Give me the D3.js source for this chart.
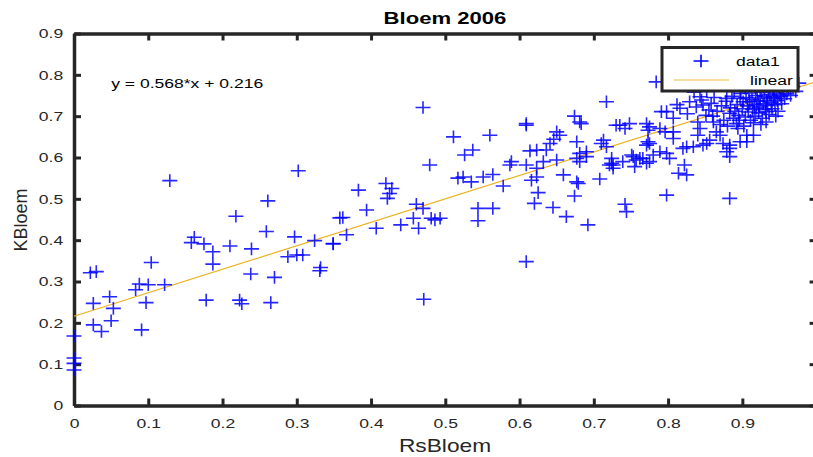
<!DOCTYPE html>
<html>
<head>
<meta charset="utf-8">
<script src="https://cdn.jsdelivr.net/npm/d3@7"></script>
<style>
  body { margin: 0; background: #fff; }
  svg { display: block; font-family: "Liberation Sans", Arial, sans-serif; }
</style>
</head>
<body>
<div id="chart"></div>
<script>
/* Bloem 2006 - RsBloem vs KBloem scatter with linear fit (MATLAB look) */

// data
var rsBloem = [
  0.129, 0.302, 0.261, 0.218, 0.259, 0.162, 0.158, 0.175, 0.187, 0.187, 0.210, 0.239, 0.297, 0.324, 0.349, 0.288,
  0.300, 0.308, 0.332, 0.331, 0.270, 0.238, 0.178, 0.223, 0.226, 0.265, 0.104, 0.088, 0.100, 0.083, 0.122, 0.097,
  0.091, 0.022, 0.030, 0.026, 0.048, 0.053, 0.050, 0.026, 0.037, 0.000, 0.000, 0.000, 0.000, 0.358,
  0.470, 0.511, 0.560, 0.609, 0.609, 0.674, 0.681, 0.717, 0.730, 0.742, 0.650, 0.654, 0.646, 0.641, 0.677, 0.713,
  0.710, 0.717, 0.537, 0.526, 0.614, 0.623, 0.636, 0.589, 0.587, 0.609, 0.632, 0.650, 0.677, 0.690, 0.681, 0.724,
  0.726, 0.739, 0.623, 0.479, 0.517, 0.524, 0.535, 0.551, 0.564, 0.578, 0.616, 0.623, 0.659, 0.677, 0.679, 0.708,
  0.625, 0.674, 0.620, 0.645, 0.663, 0.692, 0.742, 0.744, 0.544, 0.564, 0.544, 0.609, 0.471, 0.383, 0.420, 0.428,
  0.425, 0.422, 0.394, 0.362, 0.407, 0.440, 0.457, 0.464, 0.461, 0.470, 0.481, 0.486, 0.493, 0.367, 0.349,
  0.784, 0.798, 0.883, 0.822, 0.814, 0.825,
  0.798, 0.807, 0.816, 0.829, 0.845, 0.847, 0.858, 0.840, 0.843, 0.840, 0.861, 0.865, 0.870, 0.883, 0.888, 0.892,
  0.894, 0.879, 0.897, 0.910, 0.919, 0.932, 0.932, 0.942, 0.950, 0.906, 0.915, 0.897, 0.883, 0.879, 0.883, 0.834,
  0.825, 0.820, 0.798, 0.780, 0.771, 0.773, 0.771, 0.789, 0.796, 0.807, 0.807, 0.847, 0.856,
  0.775, 0.789, 0.802, 0.766, 0.757, 0.775, 0.751, 0.724, 0.726, 0.755, 0.852, 0.874, 0.883, 0.906,
  0.683, 0.735, 0.748, 0.791, 0.775, 0.721, 0.690, 0.681, 0.753, 0.762, 0.771, 0.773,
  0.843, 0.835, 0.852,
  0.860, 0.866, 0.872, 0.875, 0.878, 0.884, 0.886, 0.889, 0.890, 0.893, 0.895, 0.896, 0.898, 0.900, 0.901, 0.903,
  0.904, 0.905, 0.907, 0.908, 0.909, 0.911, 0.912, 0.913, 0.914, 0.916, 0.917, 0.918, 0.920, 0.921, 0.922, 0.923,
  0.924, 0.926, 0.927, 0.928, 0.929, 0.930, 0.931, 0.933, 0.934, 0.935, 0.936, 0.937, 0.939, 0.940, 0.941, 0.943,
  0.944, 0.946, 0.947, 0.948, 0.950, 0.952, 0.953, 0.955, 0.957, 0.958, 0.960, 0.962, 0.965, 0.968, 0.972, 0.976,
  0.870, 0.880, 0.902, 0.915, 0.925, 0.945, 0.855, 0.862, 0.812, 0.826, 0.838, 0.851
];
var kBloem = [
  0.544, 0.568, 0.495, 0.458, 0.421, 0.407, 0.394, 0.391, 0.372, 0.342, 0.386, 0.379, 0.408, 0.399, 0.391, 0.360,
  0.364, 0.364, 0.334, 0.326, 0.310, 0.318, 0.255, 0.255, 0.246, 0.249, 0.346, 0.294, 0.292, 0.280, 0.292, 0.249,
  0.183, 0.321, 0.324, 0.247, 0.263, 0.235, 0.205, 0.195, 0.179, 0.168, 0.115, 0.102, 0.086, 0.454,
  0.721, 0.650, 0.654, 0.682, 0.678, 0.700, 0.686, 0.735, 0.678, 0.670, 0.662, 0.654, 0.644, 0.634, 0.638, 0.642,
  0.634, 0.626, 0.618, 0.606, 0.616, 0.618, 0.618, 0.590, 0.582, 0.582, 0.590, 0.594, 0.598, 0.614, 0.590, 0.598,
  0.582, 0.590, 0.574, 0.582, 0.550, 0.553, 0.541, 0.553, 0.559, 0.531, 0.545, 0.553, 0.558, 0.541, 0.537, 0.548,
  0.515, 0.507, 0.489, 0.479, 0.457, 0.437, 0.487, 0.469, 0.477, 0.477, 0.447, 0.348, 0.257, 0.521, 0.537, 0.525,
  0.513, 0.501, 0.473, 0.455, 0.429, 0.437, 0.453, 0.429, 0.487, 0.477, 0.453, 0.449, 0.453, 0.413, 0.392,
  0.783, 0.509, 0.501, 0.582, 0.562, 0.558,
  0.711, 0.695, 0.719, 0.735, 0.739, 0.727, 0.731, 0.686, 0.670, 0.654, 0.686, 0.662, 0.654, 0.707, 0.695, 0.682,
  0.670, 0.743, 0.743, 0.735, 0.719, 0.711, 0.686, 0.743, 0.751, 0.654, 0.654, 0.638, 0.630, 0.614, 0.602, 0.626,
  0.626, 0.622, 0.610, 0.606, 0.682, 0.666, 0.630, 0.670, 0.662, 0.662, 0.646, 0.630, 0.642,
  0.634, 0.614, 0.598, 0.598, 0.594, 0.590, 0.606, 0.586, 0.574, 0.578, 0.634, 0.634, 0.622, 0.638,
  0.682, 0.678, 0.682, 0.711, 0.674, 0.582, 0.602, 0.610, 0.602, 0.598, 0.586, 0.638,
  0.747, 0.758, 0.760,
  0.700, 0.712, 0.725, 0.690, 0.736, 0.720, 0.748, 0.760, 0.712, 0.728, 0.702, 0.690, 0.755, 0.718, 0.735, 0.768,
  0.698, 0.745, 0.725, 0.710, 0.756, 0.690, 0.772, 0.740, 0.716, 0.728, 0.700, 0.750, 0.762, 0.736, 0.708, 0.722,
  0.744, 0.758, 0.695, 0.730, 0.770, 0.748, 0.716, 0.738, 0.726, 0.760, 0.704, 0.752, 0.734, 0.718, 0.766, 0.746,
  0.728, 0.756, 0.738, 0.712, 0.770, 0.748, 0.730, 0.760, 0.742, 0.775, 0.754, 0.766, 0.750, 0.772, 0.760, 0.780,
  0.680, 0.676, 0.676, 0.684, 0.680, 0.700, 0.715, 0.745, 0.728, 0.706, 0.722, 0.702
];

var fitSlope = 0.568;
var fitIntercept = 0.216;

var xTicks = [0, 0.1, 0.2, 0.3, 0.4, 0.5, 0.6, 0.7, 0.8, 0.9, 1];
var yTicks = [0, 0.1, 0.2, 0.3, 0.4, 0.5, 0.6, 0.7, 0.8, 0.9];

var seriesNames = ["data1", "linear"];

var W = 813, H = 457;
var AXIS = "#262626";
var BLUE = "#0000ff";
var FIT = "#edb120";
var SX = 1.3;   // picture is stretched sideways, so is the text

var svg = d3.select("#chart").append("svg")
    .attr("width", W)
    .attr("height", H);

var x = d3.scaleLinear().domain([0, 1]).range([74, 816.6]);
var y = d3.scaleLinear().domain([0, 0.9]).range([405.5, 33.5]);

var fmt = function(d) { return d === 0 ? "0" : (d === 1 ? "1" : d3.format(".1f")(d)); };

// text placed at (px,py), stretched horizontally
function label(g, px, py, txt, size, anchor, weight) {
    return g.append("text")
        .attr("transform", "translate(" + px + "," + py + ") scale(" + SX + ",1)")
        .attr("text-anchor", anchor || "start")
        .attr("font-size", size)
        .attr("font-weight", weight || "normal")
        .attr("fill", AXIS)
        .text(txt);
}

/* axes - ticks point inward, box on top and right */
function styleAxis(g) {
    g.select(".domain").attr("stroke", AXIS).attr("stroke-width", 3.5);
    g.selectAll(".tick line").attr("stroke", AXIS).attr("stroke-width", 3);
    g.selectAll(".tick text").attr("fill", AXIS).attr("font-size", 13.5)
        .attr("font-family", "'Liberation Sans', Arial, sans-serif");
}

var gx = svg.append("g")
    .attr("transform", "translate(0," + y(0) + ")")
    .call(d3.axisBottom(x).tickValues(xTicks).tickFormat(fmt).tickSizeInner(-7).tickSizeOuter(0).tickPadding(13.2));
styleAxis(gx);
gx.selectAll(".tick text").attr("transform", "scale(" + SX + ",1)");

var gy = svg.append("g")
    .attr("transform", "translate(" + x(0) + ",0)")
    .call(d3.axisLeft(y).tickValues(yTicks).tickFormat(fmt).tickSizeInner(-7).tickSizeOuter(0).tickPadding(10.8));
styleAxis(gy);
gy.selectAll(".tick text")
    .attr("x", -10.8 / SX)
    .attr("transform", "scale(" + SX + ",1)");

var gTop = svg.append("g")
    .attr("transform", "translate(0," + y(0.9) + ")")
    .call(d3.axisTop(x).tickValues(xTicks).tickFormat("").tickSizeInner(-7).tickSizeOuter(0));
styleAxis(gTop);

var gRight = svg.append("g")
    .attr("transform", "translate(" + x(1) + ",0)")
    .call(d3.axisRight(y).tickValues(yTicks).tickFormat("").tickSizeInner(-7).tickSizeOuter(0));
styleAxis(gRight);

/* fit line */
var fitLine = d3.line()
    .x(function(d) { return x(d); })
    .y(function(d) { return y(fitSlope * d + fitIntercept); });

svg.append("path")
    .datum([0, 1])
    .attr("d", fitLine)
    .attr("fill", "none")
    .attr("stroke", FIT)
    .attr("stroke-width", 1.2);

/* scatter markers */
var PLUS = "M-7.5,0H7.5M0,-6.3V6.3";

svg.append("g").selectAll("path")
    .data(rsBloem.map(function(d, i) { return [d, kBloem[i]]; }))
    .join("path")
    .attr("d", PLUS)
    .attr("transform", function(d) { return "translate(" + x(d[0]) + "," + y(d[1]) + ")"; })
    .attr("fill", "none")
    .attr("stroke", BLUE)
    .attr("stroke-opacity", 0.85)
    .attr("stroke-width", 1.6);

/* equation */
label(svg, x(0.05), y(0.78) + 5, "y = " + fitSlope + "*x + " + fitIntercept, 13.5, "start").attr("fill", "#000");

/* title and axis labels */
label(svg, 445, 24, "Bloem 2006", 17, "middle", "bold").attr("fill", "#000");
label(svg, 445, 451.5, "RsBloem", 17.5, "middle");

svg.append("text")
    .attr("transform", "translate(27,220) rotate(-90)")
    .attr("text-anchor", "middle")
    .attr("font-size", 18)
    .attr("fill", AXIS)
    .text("KBloem");

/* legend */
var lg = svg.append("g");
lg.append("rect")
    .attr("x", 662).attr("y", 47.5)
    .attr("width", 136).attr("height", 43.5)
    .attr("fill", "#fff")
    .attr("stroke", AXIS)
    .attr("stroke-width", 3);

lg.append("path")
    .attr("d", PLUS)
    .attr("transform", "translate(701,61)")
    .attr("fill", "none")
    .attr("stroke", BLUE)
    .attr("stroke-width", 1.6);
label(lg, 736, 66, seriesNames[0], 13.5, "start").attr("fill", "#000");

lg.append("line")
    .attr("x1", 674).attr("x2", 729)
    .attr("y1", 80).attr("y2", 80)
    .attr("stroke", FIT)
    .attr("stroke-opacity", 0.6)
    .attr("stroke-width", 1.5);
label(lg, 750, 85, seriesNames[1], 13.5, "start").attr("fill", "#000");
</script>
</body>
</html>
